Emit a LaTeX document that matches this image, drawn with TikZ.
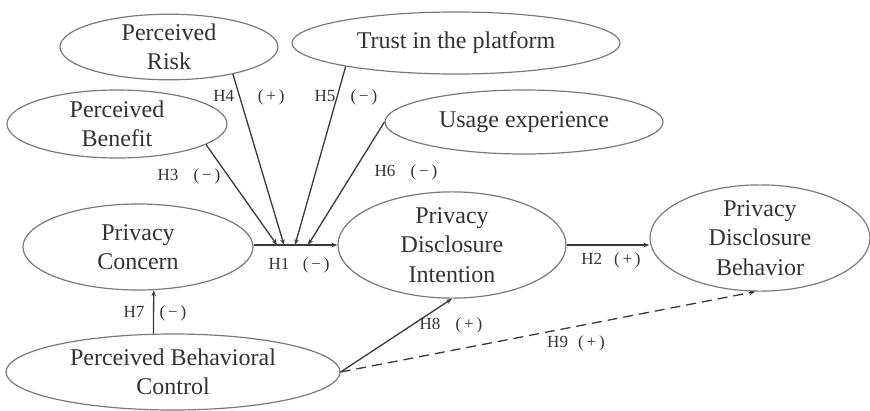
\documentclass[tikz,border=0pt]{standalone}
\usepackage{fontspec}
\setmainfont{Liberation Serif}
\usetikzlibrary{shapes.geometric,arrows.meta}
\definecolor{txt}{HTML}{333333}
\definecolor{edge}{HTML}{7A7A7A}
\definecolor{lin}{HTML}{3A3A3A}
\begin{document}
\begin{tikzpicture}[x=1pt,y=-1pt,
  construct/.style={ellipse,draw=edge,line width=1.2pt,inner sep=0pt,align=center,text=txt,
    font=\fontsize{24}{29.5}\selectfont},
  hyp/.style={text=txt,font=\fontsize{17}{19}\selectfont,inner sep=0pt},
  arr/.style={draw=lin,line width=1.3pt,-{Stealth[length=6pt,width=4.5pt]}},
  darr/.style={arr,dash pattern=on 10pt off 6pt}]
\useasboundingbox[fill=white] (0,0) rectangle (870,410);
\node[construct,minimum width=218pt,minimum height=64pt] (risk) at (169,47) {Perceived\\Risk};
\node[construct,minimum width=328pt,minimum height=62pt] (trust) at (456,43) {Trust in the platform};
\node[construct,minimum width=220pt,minimum height=68pt] (benefit) at (117,124) {Perceived\\Benefit};
\node[construct,minimum width=278pt,minimum height=64pt] (usage) at (524,122) {Usage experience};
\node[construct,minimum width=230pt,minimum height=86pt] (concern) at (138,247) {Privacy\\Concern};
\node[construct,minimum width=228pt,minimum height=100pt] (intention) at (452,245) {Privacy\\Disclosure\\Intention};
\node[construct,minimum width=220pt,minimum height=106pt] (behavior) at (760,238) {Privacy\\Disclosure\\Behavior};
\node[construct,minimum width=334pt,minimum height=76pt] (control) at (173,372) {Perceived Behavioral\\Control};
% points on the H1 path
\coordinate (m3) at (277,245);
\coordinate (m4) at (284,245);
\coordinate (m5) at (295,245);
\coordinate (m6) at (308,245);
% connectors
\draw[arr] (intention.west -| concern.east) -- (intention.west);
\draw[arr] (benefit.-13) -- (m3);
\draw[arr] (risk.-23) -- (m4);
\draw[arr] (trust.-168) -- (m5);
\draw[arr] (usage.180) -- (m6);
\draw[arr] (intention.east) -- (intention.east -| behavior.west);
\draw[arr] (control.117) -- (concern.-70);
\draw[arr] (control.east) -- (intention.south);
\draw[darr] (control.east) -- (behavior.-95);
% labels
\node[hyp] (l4) at (249,97) {H4\hspace{1.4em}(\,+\,)};
\node[hyp] (l5) at (346,97) {H5\hspace{0.9em}(\,−\,)};
\node[hyp] (l3) at (189,176) {H3\hspace{0.9em}(\,−\,)};
\node[hyp] (l6) at (406,172) {H6\hspace{0.9em}(\,−\,)};
\node[hyp] (l1) at (299,265) {H1\hspace{0.8em}(\,−\,)};
\node[hyp] (l2) at (611,260) {H2\hspace{0.7em}(\,+\,)};
\node[hyp] (l7) at (155,313) {H7\hspace{0.9em}(\,−\,)};
\node[hyp] (l8) at (451,325) {H8\hspace{0.9em}(\,+\,)};
\node[hyp] (l9) at (576,343) {H9\hspace{0.6em}(\,+\,)};
\end{tikzpicture}
\end{document}
